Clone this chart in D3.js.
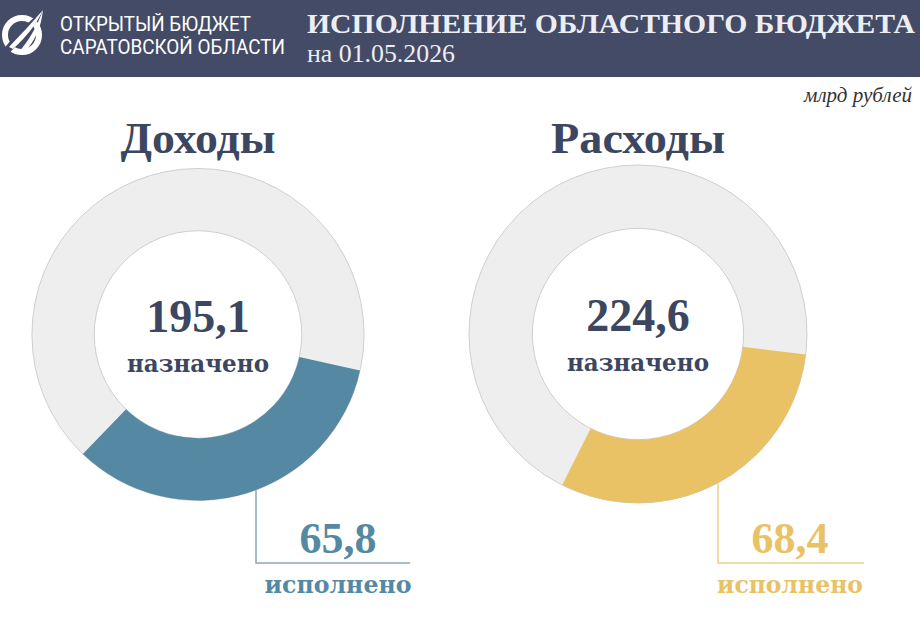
<!DOCTYPE html>
<html><head><meta charset="utf-8">
<script src="https://cdn.jsdelivr.net/npm/d3@7/dist/d3.min.js"></script>
<style>
html,body{margin:0;padding:0;background:#fff;}
svg{display:block;}
</style></head>
<body>
<script>
// ---- data ----
const titles = ["Доходы", "Расходы"];
const planned = [195.1, 224.6];
const executed = [65.8, 68.4];
const plannedLabel = "назначено";
const executedLabel = "исполнено";
const unitLabel = "млрд рублей";
const headerTitle = "ИСПОЛНЕНИЕ ОБЛАСТНОГО БЮДЖЕТА";
const headerDate = "на 01.05.2026";
const logoLines = ["ОТКРЫТЫЙ БЮДЖЕТ", "САРАТОВСКОЙ ОБЛАСТИ"];

// ---- styles/layout ----
const W = 920, H = 638;
const colors = ["#5589a3", "#e8c265"];
const lineColors = ["#86a8bb", "#ebcf87"];
const serif = "'Liberation Serif', 'DejaVu Serif', serif";
const wordSerif = "'DejaVu Serif', 'Liberation Serif', serif";
const layout = [
  {cx: 198, cy: 334.5, r: 166, rot: 102.5, lineX: 256, lineY: 563, lineEnd: 410, labX: 338, titleW: 155, plannedW: 142, execW: 147},
  {cx: 638, cy: 334, r: 169, rot: 97, lineX: 718, lineY: 563, lineEnd: 864, labX: 790, titleW: 174, plannedW: 142, execW: 146}
];

const svg = d3.select("body").append("svg").attr("width", W).attr("height", H);

// header
svg.append("rect").attr("x", 0).attr("y", 0).attr("width", W).attr("height", 77).attr("fill", "#434b66");
const logo = svg.append("g").attr("transform", "translate(22,35)");
logo.append("circle").attr("r", 17).attr("fill", "none").attr("stroke", "#fff").attr("stroke-width", 6);
logo.append("path").attr("d", "M-19,15 C-6,-2 8,-14 22,-26 C14,-10 2,4 -14,19 Z").attr("fill", "#434b66");
logo.append("path").attr("d", "M-13,12 C-2,0 10,-12 21,-25 C14,-10 4,2 -9,14 Z").attr("fill", "#fff");
logo.append("path").attr("d", "M-3,17 C6,6 14,-6 21,-25 C19,-6 12,7 2,18 Z").attr("fill", "#fff");

svg.selectAll("text.logo").data(logoLines).enter().append("text")
  .attr("class", "logo")
  .attr("x", 60).attr("y", (d, i) => 31 + i * 23)
  .attr("fill", "#fff")
  .attr("font-family", "Roboto, 'Open Sans', sans-serif")
  .attr("font-size", 21)
  .attr("textLength", (d, i) => i === 0 ? 191 : 225)
  .attr("lengthAdjust", "spacingAndGlyphs")
  .text(d => d);

svg.append("text").attr("x", 307).attr("y", 33)
  .attr("fill", "#eceef4").attr("font-family", serif).attr("font-weight", "bold")
  .attr("font-size", 27).attr("textLength", 608).attr("lengthAdjust", "spacingAndGlyphs")
  .text(headerTitle);
svg.append("text").attr("x", 307).attr("y", 62)
  .attr("fill", "#eceef4").attr("font-family", serif)
  .attr("font-size", 25).attr("textLength", 148).attr("lengthAdjust", "spacingAndGlyphs")
  .text(headerDate);

svg.append("text").attr("x", 912).attr("y", 102).attr("text-anchor", "end")
  .attr("fill", "#333").attr("font-family", serif).attr("font-style", "italic")
  .attr("font-size", 20).attr("textLength", 108).attr("lengthAdjust", "spacingAndGlyphs")
  .text(unitLabel);

// charts
const rad = Math.PI / 180;
titles.forEach((t, i) => {
  const L = layout[i];
  const inner = L.r * 0.625;
  const frac = d3.scaleLinear().domain([0, planned[i]]).range([0, 2 * Math.PI]);
  const g = svg.append("g");

  g.append("text").attr("x", L.cx).attr("y", 153).attr("text-anchor", "middle")
    .attr("fill", "#3d4660").attr("font-family", serif).attr("font-weight", "bold")
    .attr("font-size", 44).attr("textLength", L.titleW).attr("lengthAdjust", "spacingAndGlyphs")
    .text(t);

  const arc = d3.arc();
  const c = g.append("g").attr("transform", `translate(${L.cx},${L.cy})`);
  c.append("path").attr("d", arc({innerRadius: inner, outerRadius: L.r, startAngle: 0, endAngle: frac(planned[i])}))
    .attr("fill", "#eeeeee").attr("stroke", "#cfcfcf").attr("stroke-width", 1);
  c.append("path").attr("d", arc({innerRadius: inner, outerRadius: L.r,
      startAngle: L.rot * rad, endAngle: L.rot * rad + frac(executed[i])}))
    .attr("fill", colors[i]);

  c.append("text").attr("x", 0).attr("y", -3).attr("text-anchor", "middle")
    .attr("fill", "#3d4660").attr("font-family", serif).attr("font-weight", "bold")
    .attr("font-size", 46).text(d3.format(".1f")(planned[i]).replace(".", ","));
  c.append("text").attr("x", 0).attr("y", 37).attr("text-anchor", "middle")
    .attr("fill", "#3d4660").attr("font-family", wordSerif).attr("font-weight", "bold")
    .attr("font-size", 24).attr("textLength", L.plannedW).attr("lengthAdjust", "spacingAndGlyphs")
    .text(plannedLabel);

  // leader
  const dx = L.lineX - L.cx;
  const yTop = L.cy + Math.sqrt(L.r * L.r - dx * dx);
  g.append("path").attr("d", `M${L.lineX},${yTop}V${L.lineY}H${L.lineEnd}`)
    .attr("fill", "none").attr("stroke", lineColors[i]).attr("stroke-width", 1.5);

  g.append("text").attr("x", L.labX).attr("y", 553).attr("text-anchor", "middle")
    .attr("fill", colors[i]).attr("font-family", serif).attr("font-weight", "bold")
    .attr("font-size", 44).text(d3.format(".1f")(executed[i]).replace(".", ","));
  g.append("text").attr("x", L.labX).attr("y", 593).attr("text-anchor", "middle")
    .attr("fill", colors[i]).attr("font-family", wordSerif).attr("font-weight", "bold")
    .attr("font-size", 24).attr("textLength", L.execW).attr("lengthAdjust", "spacingAndGlyphs")
    .text(executedLabel);
});
</script>
</body></html>
